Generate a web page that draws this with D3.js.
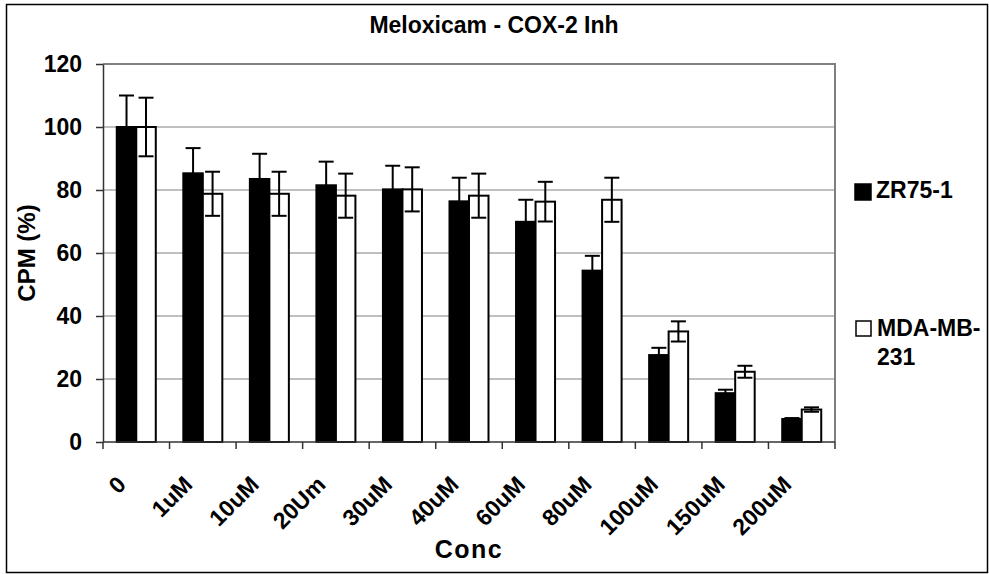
<!DOCTYPE html>
<html>
<head>
<meta charset="utf-8">
<script src="https://cdn.jsdelivr.net/npm/d3@7"></script>
<style>
  html, body { margin: 0; padding: 0; background: #fff; }
  svg { display: block; font-family: Arial, "Liberation Sans", sans-serif; }
</style>
</head>
<body>
<svg id="chart" width="989" height="574"></svg>
<script>
// Concentrations tested
const categories = ["0", "1uM", "10uM", "20Um", "30uM", "40uM", "60uM", "80uM", "100uM", "150uM", "200uM"];
// Cell lines
const seriesNames = ["ZR75-1", "MDA-MB-231"];
// CPM (%) means and error (±)
const zrValues  = [100, 85.3, 83.5, 81.5, 80.2, 76.4, 69.9, 54.4, 27.6, 15.5, 7.3];
const zrErrors  = [10, 8, 8, 7.5, 7.5, 7.5, 7, 4.7, 2.3, 1.1, 0.3];
const mdaValues = [100, 78.8, 78.8, 78.2, 80.2, 78.2, 76.3, 76.9, 35.1, 22.3, 10.3];
const mdaErrors = [9.3, 7, 7, 7, 7, 7, 6.3, 7, 3.2, 1.9, 0.7];
const yTicks = [0, 20, 40, 60, 80, 100, 120];

const svg = d3.select("#chart");
const W = 989, H = 574;
const plot = { left: 103, right: 835, top: 64, bottom: 442 };

// outer chart frame
svg.append("rect")
  .attr("x", 6.5).attr("y", 4.5)
  .attr("width", W - 8).attr("height", H - 6)
  .attr("fill", "#fff").attr("stroke", "#000").attr("stroke-width", 1.5);

const x = d3.scaleBand().domain(categories).range([plot.left, plot.right]).padding(0);
const xs = d3.scaleBand().domain(seriesNames).range([0, x.bandwidth()])
  .paddingInner(0).paddingOuter(0.706);
const y = d3.scaleLinear().domain([0, 120]).range([plot.bottom, plot.top]);

// horizontal gridlines
svg.append("g").selectAll("line")
  .data(yTicks.filter(t => t > 0 && t < 120))
  .join("line")
  .attr("x1", plot.left).attr("x2", plot.right)
  .attr("y1", d => y(d)).attr("y2", d => y(d))
  .attr("stroke", "#808080").attr("stroke-width", 1);

// plot frame (top and right)
svg.append("path")
  .attr("d", `M${plot.left},${y(120)}H${plot.right}V${plot.bottom}`)
  .attr("fill", "none").attr("stroke", "#808080").attr("stroke-width", 2);

const rows = categories.map((c, i) => ({
  cat: c,
  vals: [
    { s: seriesNames[0], v: zrValues[i], e: zrErrors[i] },
    { s: seriesNames[1], v: mdaValues[i], e: mdaErrors[i] }
  ]
}));

const groups = svg.append("g").selectAll("g")
  .data(rows).join("g")
  .attr("transform", d => `translate(${x(d.cat)},0)`);

// bars
groups.selectAll("rect")
  .data(d => d.vals).join("rect")
  .attr("x", d => xs(d.s))
  .attr("y", d => y(d.v))
  .attr("width", xs.bandwidth())
  .attr("height", d => y(0) - y(d.v))
  .attr("fill", d => d.s === seriesNames[0] ? "#000" : "#fff")
  .attr("stroke", "#000").attr("stroke-width", 2);

// error bars
const capHalf = 7.5;
const eb = groups.selectAll("g.err").data(d => d.vals).join("g").attr("class", "err");
eb.append("line")
  .attr("x1", d => xs(d.s) + xs.bandwidth() / 2)
  .attr("x2", d => xs(d.s) + xs.bandwidth() / 2)
  .attr("y1", d => y(d.v - d.e)).attr("y2", d => y(d.v + d.e))
  .attr("stroke", "#000").attr("stroke-width", 2);
eb.append("line")
  .attr("x1", d => xs(d.s) + xs.bandwidth() / 2 - capHalf)
  .attr("x2", d => xs(d.s) + xs.bandwidth() / 2 + capHalf)
  .attr("y1", d => y(d.v + d.e)).attr("y2", d => y(d.v + d.e))
  .attr("stroke", "#000").attr("stroke-width", 2);
eb.append("line")
  .attr("x1", d => xs(d.s) + xs.bandwidth() / 2 - capHalf)
  .attr("x2", d => xs(d.s) + xs.bandwidth() / 2 + capHalf)
  .attr("y1", d => y(d.v - d.e)).attr("y2", d => y(d.v - d.e))
  .attr("stroke", "#000").attr("stroke-width", 2);

// y axis
const yAxis = svg.append("g")
  .attr("transform", `translate(${plot.left},0)`)
  .call(d3.axisLeft(y).tickValues(yTicks).tickSize(7).tickSizeOuter(0).tickPadding(14));
yAxis.select(".domain").attr("stroke", "#333").attr("stroke-width", 1.5);
yAxis.selectAll(".tick line").attr("stroke", "#333").attr("stroke-width", 1.5);
yAxis.selectAll(".tick text")
  .attr("font-size", 23).attr("font-weight", "bold").attr("fill", "#000")
  .attr("font-family", "Arial, 'Liberation Sans', sans-serif");

// x axis: ticks at category boundaries
const xAxisG = svg.append("g").attr("transform", `translate(0,${plot.bottom})`);
xAxisG.append("line")
  .attr("x1", plot.left).attr("x2", plot.right)
  .attr("y1", 0).attr("y2", 0)
  .attr("stroke", "#333").attr("stroke-width", 1.5);
const boundaries = categories.map(c => x(c)).concat([plot.right]);
xAxisG.selectAll("line.tk").data(boundaries).join("line").attr("class", "tk")
  .attr("x1", d => d).attr("x2", d => d)
  .attr("y1", 0).attr("y2", 7)
  .attr("stroke", "#333").attr("stroke-width", 1.5);
xAxisG.selectAll("text").data(categories).join("text")
  .attr("transform", d => `translate(${x(d) + x.bandwidth() / 2 - 9},44) rotate(-45)`)
  .attr("text-anchor", "end")
  .attr("font-size", 23).attr("font-weight", "bold").attr("fill", "#000")
  .text(d => d);

// axis titles
svg.append("text")
  .attr("x", (plot.left + plot.right) / 2).attr("y", 558)
  .attr("text-anchor", "middle")
  .attr("font-size", 25).attr("font-weight", "bold").attr("letter-spacing", 1.5)
  .text("Conc");
svg.append("text")
  .attr("transform", `translate(35,${(plot.top + plot.bottom) / 2}) rotate(-90)`)
  .attr("text-anchor", "middle")
  .attr("font-size", 24).attr("font-weight", "bold")
  .text("CPM (%)");

// title
svg.append("text")
  .attr("x", 494).attr("y", 33)
  .attr("text-anchor", "middle")
  .attr("font-size", 23).attr("font-weight", "bold")
  .text("Meloxicam - COX-2 Inh");

// legend
const legend = svg.append("g");
legend.append("rect")
  .attr("x", 855).attr("y", 184).attr("width", 16).attr("height", 16)
  .attr("fill", "#000").attr("stroke", "#000").attr("stroke-width", 1.5);
legend.append("text")
  .attr("x", 876).attr("y", 198)
  .attr("font-size", 23).attr("font-weight", "bold")
  .text(seriesNames[0]);
legend.append("rect")
  .attr("x", 856).attr("y", 321).attr("width", 15).attr("height", 15)
  .attr("fill", "#fff").attr("stroke", "#000").attr("stroke-width", 1.5);
const lt = legend.append("text")
  .attr("x", 877).attr("y", 336)
  .attr("font-size", 23).attr("font-weight", "bold");
lt.append("tspan").attr("x", 877).text("MDA-MB-");
lt.append("tspan").attr("x", 877).attr("dy", 28.5).text("231");
</script>
</body>
</html>
